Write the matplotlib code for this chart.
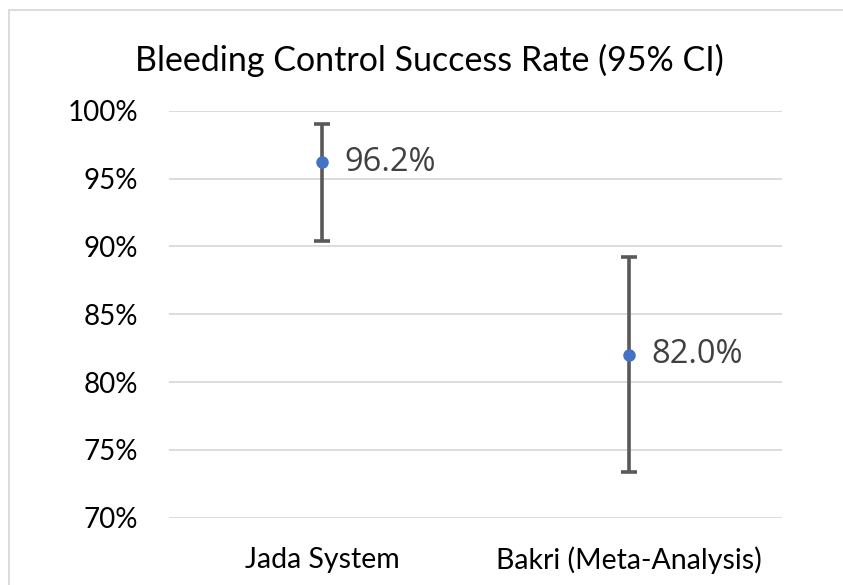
import matplotlib
matplotlib.use("Agg")
import matplotlib.pyplot as plt
from matplotlib.patches import Rectangle

categories = ["Jada System", "Bakri (Meta-Analysis)"]
rates = [96.2, 82.0]
ci_low = [90.4, 73.4]
ci_high = [99.0, 89.2]
point_labels = ["96.2%", "82.0%"]
yticks = [70, 75, 80, 85, 90, 95, 100]
ytick_labels = ["70%", "75%", "80%", "85%", "90%", "95%", "100%"]
title = "Bleeding Control Success Rate (95% CI)"

W, H = 843, 585
fig = plt.figure(figsize=(W / 100, H / 100), dpi=100)
fig.patch.set_facecolor("white")

left, right, top, bottom = 169, 782, 110.7, 517.7
ax = fig.add_axes([left / W, 1 - bottom / H, (right - left) / W, (bottom - top) / H])

x = list(range(len(categories)))
yerr = [[r - lo for r, lo in zip(rates, ci_low)], [hi - r for r, hi in zip(rates, ci_high)]]
ax.errorbar(x, rates, yerr=yerr, fmt="none", ecolor="#595959", elinewidth=2.6,
            capsize=5.5, capthick=2.6, zorder=3)
ax.plot(x, rates, "o", color="#4472C4", markersize=8, zorder=4)
for xi, r, lab in zip(x, rates, point_labels):
    ax.annotate(lab, (xi, r), xytext=(16, 0), textcoords="offset points",
                ha="left", va="center", fontsize=23.5, color="#404040",
                family=["Open Sans", "DejaVu Sans"])

ax.set_xlim(-0.5, len(categories) - 0.5)
ax.set_ylim(70, 100)
ax.set_yticks(yticks)
ax.set_yticklabels(ytick_labels)
ax.set_xticks(x)
ax.set_xticklabels(categories)
ax.grid(axis="y", color="#d9d9d9", linewidth=1.3)
ax.set_axisbelow(True)
for s in ax.spines.values():
    s.set_visible(False)
ax.tick_params(axis="both", length=0, labelsize=20, colors="black")
ax.tick_params(axis="x", labelsize=20.5)
ax.tick_params(axis="y", pad=22)
ax.tick_params(axis="x", pad=21)
for lab in ax.get_xticklabels() + ax.get_yticklabels():
    lab.set_family(["Lato", "DejaVu Sans"])

fig.text(0.5 * (137 + 722) / W, 1 - 60 / H, title, ha="center", va="center",
         fontsize=24.5, family=["Lato", "DejaVu Sans"], color="black")

fig.patches.append(Rectangle((9 / W, -0.1), 1.2, 1.1 - 10 / H, transform=fig.transFigure,
                             fill=False, edgecolor="#d9d9d9", linewidth=1.3))

fig.savefig("out.png", dpi=100)
